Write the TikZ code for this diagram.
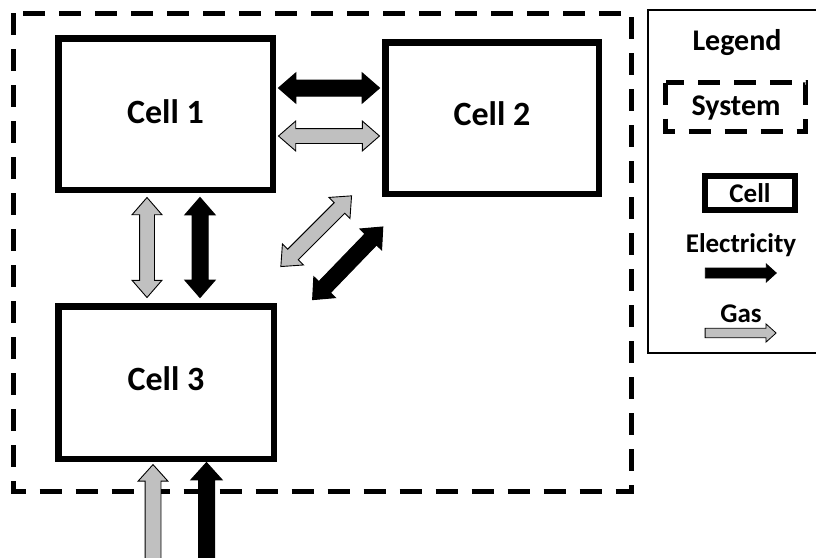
\documentclass[tikz,border=0pt]{standalone}
\usepackage{fontspec}
\setmainfont{Carlito}
\usetikzlibrary{shapes.arrows}
\definecolor{gasgray}{RGB}{192,192,192}
\begin{document}
\begin{tikzpicture}[x=1pt,y=-1pt,
  cellbox/.style={draw=black, line width=6.5pt, fill=white},
  celltext/.style={font=\fontsize{34}{38}\selectfont\bfseries, inner sep=0pt},
  sysbox/.style={draw=black, line width=5pt, dash pattern=on 22pt off 14pt},
  legtext/.style={font=\fontsize{27}{30}\selectfont\bfseries, inner sep=0pt},
  legbig/.style={font=\fontsize{30}{33}\selectfont\bfseries, inner sep=0pt},
  elecdbl/.style={double arrow, fill=black, draw=black, line width=1pt, inner xsep=0pt, inner ysep=7.5pt,
    double arrow head extend=7pt, double arrow tip angle=82, minimum height=#1},
  gasdbl/.style={double arrow, fill=gasgray, draw=black, line width=0.9pt, inner xsep=0pt, inner ysep=7pt,
    double arrow head extend=7.5pt, double arrow tip angle=82, minimum height=#1},
  elecone/.style={single arrow, fill=black, draw=black, line width=1pt, inner xsep=0pt, inner ysep=7.5pt,
    single arrow head extend=7.5pt, single arrow tip angle=84, minimum height=#1},
  gasone/.style={single arrow, fill=gasgray, draw=black, line width=0.9pt, inner xsep=0pt, inner ysep=7.5pt,
    single arrow head extend=7pt, single arrow tip angle=84, minimum height=#1},
]
\useasboundingbox (0,0) rectangle (816,557);
\fill[white] (0,0) rectangle (816,557);

% system boundary
\draw[sysbox] (13.5,13) coordinate (sysA) rectangle (631,491) coordinate (sysB);

% cells
\node[cellbox, minimum width=214.5pt, minimum height=151.5pt] (c1) at (165.5,114) {};
\node[celltext] (c1t) at (c1.center) [yshift=2pt] {Cell 1};
\node[cellbox, minimum width=213.5pt, minimum height=151.5pt] (c2) at (492,118) {};
\node[celltext] (c2t) at (c2.center) [yshift=4.5pt] {Cell 2};
\node[cellbox, minimum width=215.5pt, minimum height=152.5pt] (c3) at (166,382.5) {};
\node[celltext] (c3t) at (c3.center) [yshift=4pt] {Cell 3};

% arrows between cell 1 and cell 2
\node[elecdbl=101pt] (e12) at (329,88) {};
\node[gasdbl=101pt] (g12) at (329,136) {};

% arrows between cell 1 and cell 3
\node[gasdbl=100pt, rotate=90] (g13) at (147,247.5) {};
\node[elecdbl=100pt, rotate=90] (e13) at (200,247.5) {};

% diagonal arrows cell 2 -- cell 3
\node[gasdbl=100pt, rotate=45] (g23) at (316.2,231.2) {};
\node[elecdbl=101pt, rotate=46] (e23) at (347.7,263.3) {};

% inputs into cell 3
\node[gasone=140pt, rotate=90] (gin) at (153,539) {};
\node[elecone=140pt, rotate=90] (ein) at (206.5,537) {};

% legend
\draw[black, line width=2pt] (648,10) coordinate (lgA) rectangle (830,353) coordinate (lgB);
\node[legbig] (lg) at (737,43) {Legend};
\draw[sysbox, line width=4.5pt] (665.5,82.5) coordinate (lsA) rectangle (805.5,131.5) coordinate (lsB);
\node[legbig] (lsys) at (736,108) {System};
\node[draw=black, line width=6pt, minimum width=90pt, minimum height=34pt, legtext] (lcell) at (750,193) {Cell};
\node[legtext] (lel) at (741,245) {Electricity};
\node[single arrow, fill=black, draw=black, line width=0.8pt, inner xsep=0pt, inner ysep=4.6pt,
  single arrow head extend=4pt, single arrow tip angle=84, minimum height=71pt] (lea) at (738,273) {};
\node[legtext] (lgas) at (741,314) {Gas};
\node[single arrow, fill=gasgray, draw=black, line width=0.8pt, inner xsep=0pt, inner ysep=4.3pt,
  single arrow head extend=4.5pt, single arrow tip angle=84, minimum height=71pt] (lga) at (738,333) {};
\end{tikzpicture}
\end{document}
